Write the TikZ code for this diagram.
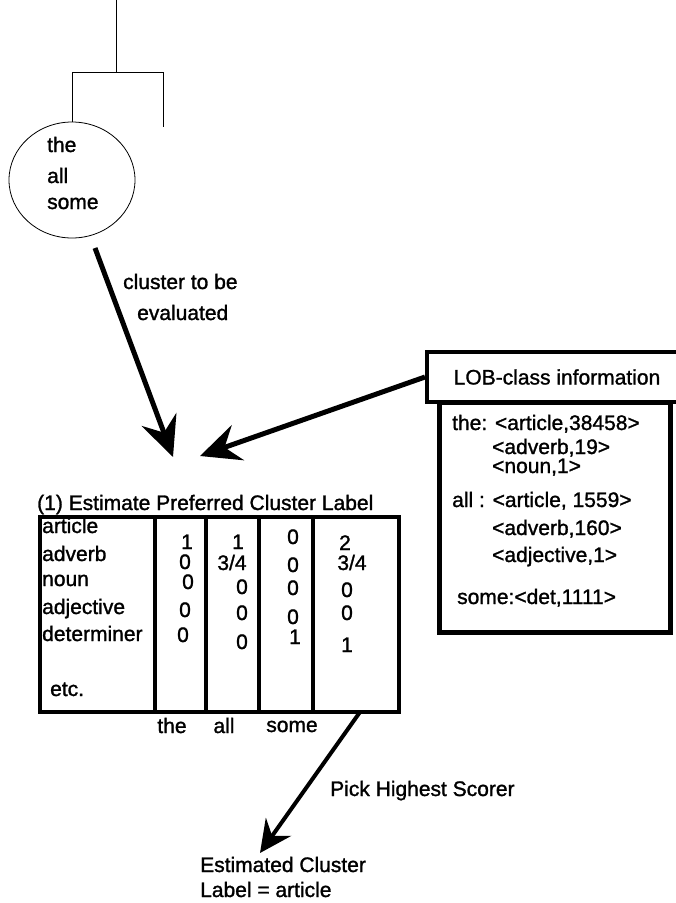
\documentclass[tikz,border=0pt]{standalone}
\usepackage{fontspec}
\setmainfont{Liberation Sans}[FakeBold=1.3]
\usetikzlibrary{arrows.meta,shapes.geometric}

\tikzset{
  txt/.style={font=\fontsize{21}{25}\selectfont, inner sep=0pt, anchor=base west},
  num/.style={font=\fontsize{21}{25}\selectfont, inner sep=0pt, anchor=base},
  treeline/.style={line width=1pt},
  bigarrow/.style={line width=5pt, -{Stealth[length=40pt,width=37pt,inset=14pt]}},
  midarrow/.style={line width=4pt, -{Stealth[length=32pt,width=31pt,inset=11pt]}},
  tabline/.style={line width=4pt},
}

\begin{document}
\begin{tikzpicture}[x=1pt,y=-1pt]
\useasboundingbox (0,0) rectangle (676,903);
\clip (0,0) rectangle (676,903);

% dendrogram branch above the cluster
\coordinate (root) at (116,0);
\coordinate (join) at (116,72);
\coordinate (lj) at (72,72);
\coordinate (rj) at (163,72);
\coordinate (rend) at (163,127);
\node[draw, ellipse, line width=0.8pt, minimum width=126pt, minimum height=116pt, inner sep=0pt] (clu) at (72,180) {};
\draw[treeline] (root) -- (join);
\draw[treeline] (lj) -- (rj);
\draw[treeline] (lj) -- (clu.north);
\draw[treeline] (rj) -- (rend);

% words of the cluster
\node[txt] (wthe) at (47,152) {the};
\node[txt] (wall) at (47,183) {all};
\node[txt] (wsome) at (47,209) {some};

% arrow: cluster to be evaluated
\coordinate (a1s) at (95,248);
\coordinate (a1e) at (173,457);
\draw[bigarrow] (a1s) -- (a1e);
\node[txt] (lbla) at (123,289) {cluster to be};
\node[txt] (lblb) at (137,320) {evaluated};

% LOB-class information box
\node[draw, line width=4pt, minimum width=260pt, minimum height=50pt, inner sep=0pt,
      anchor=north west, font=\fontsize{21}{25}\selectfont] (lobhead) at (425,350) {LOB-class information};
\node[draw, line width=5pt, minimum width=231pt, minimum height=230pt, inner sep=0pt,
      anchor=north west] (lobbody) at (437,400) {};
\node[txt] (l1) at (452,430) {the: <article,38458>};
\node[txt] (l2) at (492,454) {<adverb,19>};
\node[txt] (l3) at (492,473) {<noun,1>};
\node[txt] (l4) at (452,507) {all : <article, 1559>};
\node[txt] (l5) at (492,535) {<adverb,160>};
\node[txt] (l6) at (492,562) {<adjective,1>};
\node[txt] (l7) at (457,604) {some:<det,1111>};

\coordinate (a2e) at (200,456);
\draw[bigarrow] (lobhead.west) -- (a2e);

% step (1): score table
\node[txt] (title) at (37,510) {(1) Estimate Preferred Cluster Label};
\node[draw, line width=4pt, minimum width=359pt, minimum height=195pt, inner sep=0pt,
      anchor=north west] (tab) at (38,515) {};
\draw[tabline] (155,515) -- (155,710);
\draw[tabline] (206,515) -- (206,710);
\draw[tabline] (259,515) -- (259,710);
\draw[tabline] (313,515) -- (313,710);

\node[txt] (rart) at (42,533) {article};
\node[txt] (radv) at (42,561) {adverb};
\node[txt] (rnoun) at (42,586) {noun};
\node[txt] (radj) at (42,614) {adjective};
\node[txt] (rdet) at (42,641) {determiner};
\node[txt] (retc) at (50,696) {etc.};

% column: the
\node[num] (v11) at (187,549) {1};
\node[num] (v12) at (185,569) {0};
\node[num] (v13) at (188,589) {0};
\node[num] (v14) at (185,617) {0};
\node[num] (v15) at (183,642) {0};
% column: all
\node[num] (v21) at (238,549) {1};
\node[num] (v22) at (232,570) {3/4};
\node[num] (v23) at (242,594) {0};
\node[num] (v24) at (242,620) {0};
\node[num] (v25) at (242,649) {0};
% column: some
\node[num] (v31) at (293,544) {0};
\node[num] (v32) at (293,572) {0};
\node[num] (v33) at (293,595) {0};
\node[num] (v34) at (293,624) {0};
\node[num] (v35) at (295,644) {1};
% column: total
\node[num] (v41) at (345,550) {2};
\node[num] (v42) at (352,570) {3/4};
\node[num] (v43) at (347,597) {0};
\node[num] (v44) at (347,620) {0};
\node[num] (v45) at (347,652) {1};

\node[num] (cthe) at (172,733) {the};
\node[num] (call) at (224,733) {all};
\node[num] (csome) at (292,732) {some};

% pick the highest scorer
\coordinate (a3s) at (360,712);
\coordinate (a3e) at (260,853);
\draw[midarrow] (a3s) -- (a3e);
\node[txt] (pick) at (330,796) {Pick Highest Scorer};
\node[txt] (res1) at (200,872) {Estimated Cluster};
\node[txt] (res2) at (200,897) {Label = article};
\end{tikzpicture}
\end{document}
